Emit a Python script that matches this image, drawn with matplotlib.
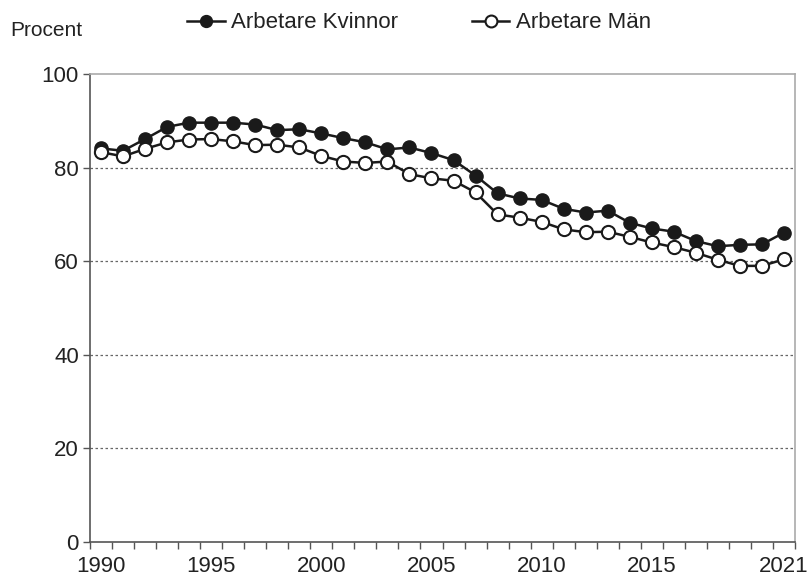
import matplotlib
matplotlib.use("Agg")
import matplotlib.pyplot as plt

plt.rcParams['font.family'] = ['Liberation Sans', 'DejaVu Sans']

years = list(range(1990, 2022))
kvinnor = [84.1, 83.6, 86.1, 88.7, 89.6, 89.6, 89.6, 89.2, 88.0, 88.2,
           87.3, 86.3, 85.4, 83.9, 84.3, 83.1, 81.6, 78.3, 74.5, 73.4,
           73.1, 71.2, 70.4, 70.8, 68.2, 67.0, 66.3, 64.3, 63.2, 63.5,
           63.6, 66.1]
man = [83.3, 82.4, 84.0, 85.4, 86.0, 86.1, 85.6, 84.8, 84.9, 84.3,
       82.5, 81.3, 81.0, 81.3, 78.6, 77.7, 77.2, 74.7, 70.0, 69.3,
       68.4, 66.8, 66.2, 66.3, 65.2, 64.0, 63.0, 61.8, 60.3, 59.0,
       59.0, 60.4]
xlabels = [1990, 1995, 2000, 2005, 2010, 2015, 2021]
ylabels = [0, 20, 40, 60, 80, 100]

fig = plt.figure(figsize=(8.08, 5.8), dpi=100)
ax = fig.add_axes([90/808, 1 - 542/580, 705/808, 468/580])

ax.plot(years, kvinnor, color='#1a1a1a', lw=1.8, marker='o', ms=9.5,
        mfc='#1a1a1a', mec='#1a1a1a', label='Arbetare Kvinnor', zorder=3)
ax.plot(years, man, color='#1a1a1a', lw=1.8, marker='o', ms=9.5,
        mfc='white', mec='#1a1a1a', mew=1.5, label='Arbetare Män', zorder=4)

ax.set_xlim(1989.5, 2021.5)
ax.set_ylim(0, 100)
ax.set_xticks(xlabels)
ax.set_xticklabels([str(y) for y in xlabels], fontsize=16, color='#222222')
ax.set_xticks([y - 0.5 for y in years] + [2021.5], minor=True)
ax.tick_params(axis='x', which='major', length=0, pad=10)
ax.tick_params(axis='x', which='minor', length=5, width=1, color='#555555', direction='out')
ax.set_yticks(ylabels)
ax.set_yticklabels([str(v) for v in ylabels], fontsize=16, color='#222222')
ax.tick_params(axis='y', length=5, width=1, color='#555555', pad=3)

for v in ylabels[1:-1]:
    ax.axhline(v, color='#666666', lw=0.9, ls=(0, (2, 2)), zorder=1)

for s in ['left', 'bottom']:
    ax.spines[s].set_color('#555555')
    ax.spines[s].set_linewidth(1.2)
for s in ['top', 'right']:
    ax.spines[s].set_color('#aaaaaa')
    ax.spines[s].set_linewidth(1.2)

fig.text(10/808, 1 - 31/580, 'Procent', fontsize=15, color='#222222', va='center')

leg = fig.legend(loc='center left', bbox_to_anchor=(178/808, 1 - 23/580), ncol=2,
                 frameon=False, fontsize=16, handlelength=1.7, handletextpad=0.3,
                 columnspacing=3.3, markerscale=0.9, borderaxespad=0)
for t in leg.get_texts():
    t.set_color('#222222')

fig.savefig('out.png', dpi=100, facecolor='white')
